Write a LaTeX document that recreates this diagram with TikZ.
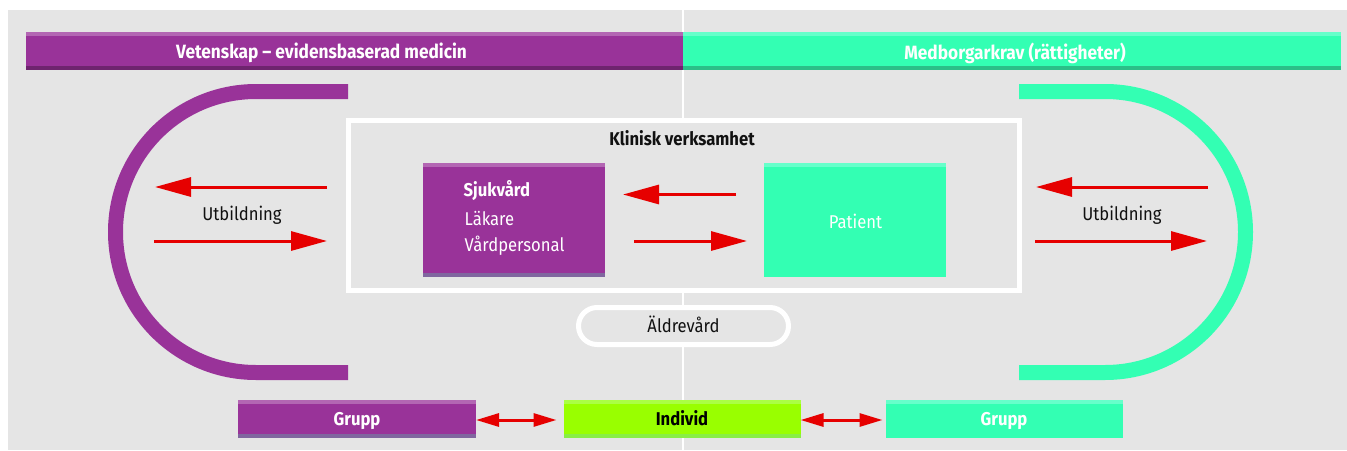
\documentclass[tikz,border=0pt]{standalone}
\usepackage{fontspec}
\setmainfont{Fira Sans}[FakeStretch=0.9]
\usetikzlibrary{arrows.meta}
\definecolor{bg}{HTML}{E5E5E5}
\definecolor{purp}{HTML}{993399}
\definecolor{purpL}{HTML}{B366B3}
\definecolor{purpD}{HTML}{6E246E}
\definecolor{purpG}{HTML}{80669F}
\definecolor{grn}{HTML}{33FFB3}
\definecolor{grnL}{HTML}{66FFCA}
\definecolor{grnD}{HTML}{2BBF88}
\definecolor{lime}{HTML}{99FF00}
\definecolor{limeL}{HTML}{AAFF44}
\definecolor{limeD}{HTML}{88EE44}
\definecolor{arrred}{HTML}{E60000}
\definecolor{txt}{HTML}{111111}
\begin{document}
\begin{tikzpicture}[x=1pt,y=1pt,
  box/.style={inner sep=0pt, outer sep=0pt, anchor=center},
  bigfont/.style={font=\fontsize{18.5}{22}\selectfont},
  boldfont/.style={font=\fontsize{18.5}{22}\selectfont\bfseries},
  headfont/.style={font=\fontsize{19.2}{22}\selectfont\bfseries},
  redarrow/.style={draw=arrred, line width=3pt, -{Triangle[length=36pt,width=19pt]}},
  dblarrow/.style={draw=arrred, line width=3pt, {Triangle[length=23pt,width=13pt]}-{Triangle[length=23pt,width=13pt]}},
  thickarc/.style={line width=15pt},
  whiteframe/.style={draw=white, line width=5pt, fill=bg, inner sep=0pt}
]
\useasboundingbox (0,0) rectangle (1347,-450);
\fill[white] (0,0) rectangle (1347,-450);
\fill[bg] (8,-10) rectangle (1347,-450);
% vertical divider
\draw[white, line width=2pt] (683,-10) -- (683,-450);

% header bars
\node[box, fill=purp, minimum width=657, minimum height=38] (hl) at (354.5,-51) {};
\fill[purpL] (hl.north west) rectangle ([yshift=-4pt]hl.north east);
\fill[purpD] (hl.south west) rectangle ([yshift=4pt]hl.south east);
\node[headfont, text=white] (hltxt) at (321.5,-53) {Vetenskap – evidensbaserad medicin};
\node[box, fill=grn, minimum width=658, minimum height=38] (hr) at (1012,-51) {};
\fill[grnL] (hr.north west) rectangle ([yshift=-4pt]hr.north east);
\fill[grnD] (hr.south west) rectangle ([yshift=4pt]hr.south east);
\node[headfont, text=white] (hrtxt) at (1015,-53) {Medborgarkrav (rättigheter)};

% frame
\node[whiteframe, minimum width=671, minimum height=170] (frame) at (684,-205.5) {};
\node[boldfont, text=txt] (klin) at (682,-138.5) {Klinisk verksamhet};

% pill
\node[whiteframe, rounded corners=18.5pt, minimum width=210, minimum height=37] (aldre) at (683.5,-326) {};
\node[bigfont, text=txt] (aldretxt) at (683.5,-324.5) {Äldrevård};

% arcs
\draw[thickarc, purp] (348,-91.5) -- (256,-91.5) arc[start angle=90, end angle=270, radius=140.5] -- (348,-372.5);
\draw[thickarc, grn] (1019,-91.5) -- (1105,-91.5) arc[start angle=90, end angle=-90, radius=140.5] -- (1019,-372.5);

% Sjukvård box
\node[box, fill=purp, minimum width=182, minimum height=114] (sjuk) at (514,-220) {};
\fill[purpL] (sjuk.north west) rectangle ([yshift=-4pt]sjuk.north east);
\fill[purpG] (sjuk.south west) rectangle ([yshift=4pt]sjuk.south east);
\node[boldfont, text=white, anchor=base west, inner sep=0pt] (sjt) at (463.5,-196.5) {Sjukvård};
\node[bigfont, text=white, anchor=base west, inner sep=0pt] (lak) at (464.5,-225) {Läkare};
\node[bigfont, text=white, anchor=base west, inner sep=0pt] (vard) at (464.5,-251) {Vårdpersonal};

% Patient box
\node[box, fill=grn, minimum width=182, minimum height=114] (pat) at (855,-220) {};
\fill[grnL] (pat.north west) rectangle ([yshift=-4pt]pat.north east);
\node[bigfont, text=white] (pattxt) at (855.5,-221.5) {Patient};

% Utbildning texts
\node[bigfont, text=txt] (utbl) at (242,-215.5) {Utbildning};
\node[bigfont, text=txt] (utbr) at (1122,-215.5) {Utbildning};

% arrow end coordinates
\coordinate (l1a) at (327,-187);  \coordinate (l1b) at (155,-187);
\coordinate (l2a) at (154,-241);  \coordinate (l2b) at (327,-241);
\coordinate (r1a) at (1208,-187); \coordinate (r1b) at (1036,-187);
\coordinate (r2a) at (1035,-241); \coordinate (r2b) at (1207,-241);
\coordinate (m1a) at (736,-194.5); \coordinate (m1b) at (623,-194.5);
\coordinate (m2a) at (634,-241);  \coordinate (m2b) at (747,-241);
\draw[redarrow] (l1a) -- (l1b);
\draw[redarrow] (l2a) -- (l2b);
\draw[redarrow] (r1a) -- (r1b);
\draw[redarrow] (r2a) -- (r2b);
\draw[redarrow] (m1a) -- (m1b);
\draw[redarrow] (m2a) -- (m2b);

% bottom boxes
\node[box, fill=purp, minimum width=238, minimum height=38] (g1) at (357,-419) {};
\fill[purpL] (g1.north west) rectangle ([yshift=-4pt]g1.north east);
\fill[purpG] (g1.south west) rectangle ([yshift=4pt]g1.south east);
\node[boldfont, text=white] (g1txt) at (357,-420.5) {Grupp};
\node[box, fill=lime, minimum width=237, minimum height=38] (ind) at (682,-419) {};
\fill[limeL] (ind.north west) rectangle ([yshift=-4pt]ind.north east);
\fill[limeD] (ind.south west) rectangle ([yshift=4pt]ind.south east);
\node[boldfont, text=black] (indtxt) at (682,-418.5) {Individ};
\node[box, fill=grn, minimum width=237, minimum height=38] (g2) at (1004,-419) {};
\fill[grnL] (g2.north west) rectangle ([yshift=-4pt]g2.north east);
\node[boldfont, text=white] (g2txt) at (1004,-420.5) {Grupp};

\draw[dblarrow, shorten >=7pt] ([yshift=-1pt]g1.east) -- ([yshift=-1pt]ind.west);
\draw[dblarrow, shorten >=3pt] ([yshift=-1pt]ind.east) -- ([yshift=-1pt]g2.west);
\end{tikzpicture}
\end{document}
